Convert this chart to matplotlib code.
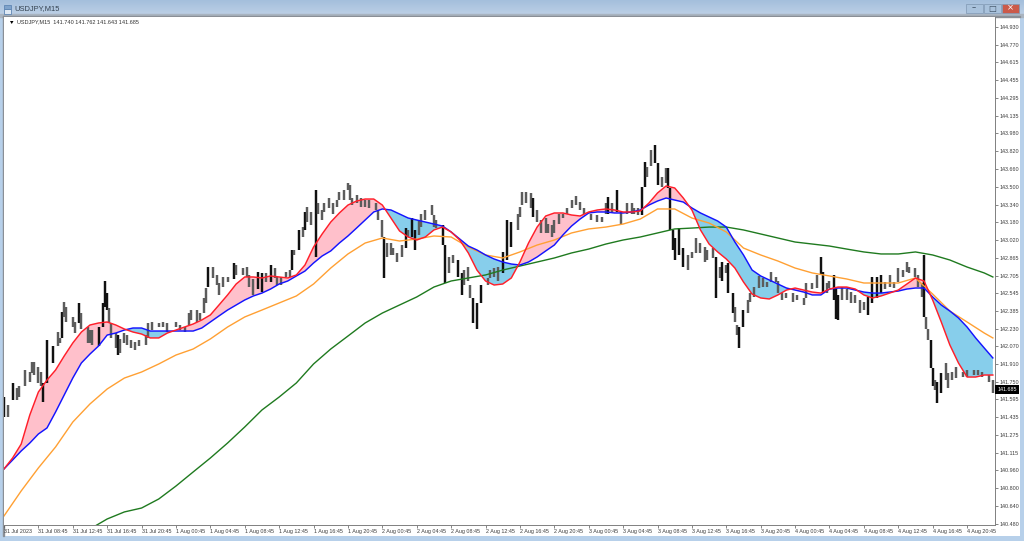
"""USDJPY M15 terminal chart with moving average ribbons."""

import matplotlib

matplotlib.use("Agg")
import matplotlib.pyplot as plt
import numpy as np
from matplotlib.patches import Polygon, Rectangle

# candle ranges, bar number / high / low
candle_bars = [
    0, 2, 4, 6, 7, 10, 12, 13, 14, 16, 17, 18, 20, 23, 25, 26, 27, 28, 29, 32, 33, 35, 36, 39, 40, 41, 44, 46, 47, 48,
    49, 50, 52, 53, 54, 56, 57, 59, 61, 63, 66, 67, 69, 72, 74, 76, 80, 82, 84, 86, 87, 90, 91, 93, 94, 95, 97, 99, 100,
    102, 104, 107, 108, 111, 113, 114, 116, 118, 120, 122, 124, 126, 127, 129, 131, 133, 134, 135, 137, 139, 140, 141,
    143, 145, 146, 148, 149, 151, 153, 155, 156, 158, 160, 161, 162, 164, 166, 168, 170, 173, 174, 176, 177, 178, 180,
    181, 183, 185, 187, 188, 190, 191, 193, 194, 196, 199, 200, 201, 204, 205, 207, 209, 211, 213, 214, 216, 217, 218,
    220, 222, 225, 226, 228, 230, 232, 234, 236, 239, 240, 241, 243, 245, 246, 248, 250, 252, 253, 255, 256, 258, 260,
    262, 264, 266, 268, 270, 273, 276, 278, 280, 281, 283, 285, 287, 290, 292, 293, 295, 297, 298, 299, 301, 303, 304,
    306, 308, 309, 310, 311, 312, 314, 316, 318, 320, 322, 324, 326, 327, 330, 331, 333, 334, 336, 337, 339, 340, 341,
    342, 344, 346, 347, 349, 351, 353, 355, 357, 359, 360, 362, 364, 367, 369, 372, 373, 376, 378, 380, 381, 383, 384,
    386, 387, 388, 390, 392, 394, 396, 398, 400, 402, 404, 406, 408, 410, 412, 414, 416, 418, 420, 421, 424, 425, 427,
    428, 429, 430, 431, 432, 433, 434, 436, 438, 439, 441, 443, 446, 448, 451, 453, 455, 458, 460,
]
candle_high = [
    141.62, 141.55, 141.74, 141.70, 141.72, 141.86, 141.84, 141.93, 141.93, 141.89, 141.84, 141.74, 142.13, 142.07,
    142.20, 142.15, 142.38, 142.47, 142.42, 142.33, 142.29, 142.46, 142.37, 142.24, 142.22, 142.22, 142.24, 142.46,
    142.66, 142.55, 142.41, 142.28, 142.19, 142.17, 142.14, 142.19, 142.17, 142.13, 142.11, 142.13, 142.17, 142.28,
    142.29, 142.28, 142.29, 142.28, 142.29, 142.26, 142.24, 142.37, 142.40, 142.40, 142.37, 142.50, 142.59, 142.78,
    142.78, 142.71, 142.64, 142.69, 142.69, 142.82, 142.80, 142.77, 142.78, 142.71, 142.67, 142.74, 142.73, 142.73,
    142.80, 142.77, 142.69, 142.69, 142.74, 142.75, 142.93, 142.93, 143.11, 143.14, 143.27, 143.32, 143.27, 143.47,
    143.35, 143.29, 143.35, 143.40, 143.35, 143.38, 143.45, 143.47, 143.53, 143.52, 143.40, 143.43, 143.40, 143.38,
    143.38, 143.35, 143.29, 143.20, 143.05, 143.00, 143.00, 142.95, 142.91, 142.98, 143.13, 143.11, 143.22, 143.11,
    143.20, 143.26, 143.29, 143.34, 143.25, 143.20, 143.16, 142.98, 142.87, 142.89, 142.84, 142.73, 142.75, 142.78,
    142.62, 142.50, 142.46, 142.62, 142.68, 142.75, 142.77, 142.78, 142.92, 143.20, 143.18, 143.26, 143.32, 143.45,
    143.45, 143.44, 143.40, 143.29, 143.20, 143.22, 143.17, 143.16, 143.20, 143.26, 143.26, 143.31, 143.38, 143.42,
    143.36, 143.31, 143.26, 143.25, 143.23, 143.35, 143.41, 143.35, 143.47, 143.27, 143.35, 143.35, 143.31, 143.31,
    143.50, 143.72, 143.68, 143.83, 143.87, 143.71, 143.59, 143.67, 143.67, 143.49, 143.11, 143.04, 143.13, 142.95,
    142.89, 142.92, 143.04, 143.00, 142.96, 142.93, 142.95, 142.87, 142.78, 142.83, 142.80, 142.82, 142.55, 142.42,
    142.26, 142.24, 142.40, 142.49, 142.55, 142.60, 142.70, 142.68, 142.65, 142.74, 142.69, 142.66, 142.55, 142.55,
    142.55, 142.53, 142.50, 142.64, 142.64, 142.71, 142.87, 142.74, 142.64, 142.66, 142.71, 142.58, 142.53, 142.60,
    142.58, 142.56, 142.53, 142.49, 142.47, 142.51, 142.69, 142.69, 142.71, 142.65, 142.71, 142.65, 142.77, 142.75,
    142.83, 142.78, 142.77, 142.71, 142.64, 142.89, 142.33, 142.23, 142.13, 141.88, 141.77, 141.75, 141.83, 141.92,
    141.83, 141.84, 141.89, 141.84, 141.86, 141.86, 141.86, 141.84, 141.81, 141.77,
]
candle_low = [
    141.44, 141.44, 141.59, 141.59, 141.62, 141.72, 141.75, 141.83, 141.81, 141.74, 141.72, 141.57, 141.74, 141.92,
    142.07, 142.10, 142.15, 142.33, 142.29, 142.24, 142.19, 142.28, 142.23, 142.10, 142.10, 142.08, 142.07, 142.24,
    142.42, 142.40, 142.28, 142.15, 142.06, 141.99, 142.01, 142.10, 142.08, 142.06, 142.04, 142.07, 142.08, 142.15,
    142.22, 142.24, 142.24, 142.20, 142.24, 142.22, 142.20, 142.26, 142.31, 142.29, 142.31, 142.37, 142.46, 142.60,
    142.68, 142.62, 142.53, 142.60, 142.65, 142.67, 142.71, 142.71, 142.69, 142.60, 142.53, 142.58, 142.56, 142.65,
    142.65, 142.68, 142.62, 142.62, 142.69, 142.69, 142.75, 142.89, 142.93, 143.05, 143.11, 143.18, 143.16, 142.87,
    143.26, 143.20, 143.27, 143.31, 143.26, 143.32, 143.38, 143.38, 143.47, 143.38, 143.34, 143.35, 143.32, 143.32,
    143.31, 143.29, 143.20, 143.05, 142.68, 142.87, 142.89, 142.89, 142.83, 142.87, 142.95, 143.05, 143.05, 142.93,
    143.07, 143.14, 143.20, 143.25, 143.14, 143.13, 142.98, 142.64, 142.73, 142.82, 142.69, 142.53, 142.62, 142.66,
    142.50, 142.28, 142.23, 142.46, 142.62, 142.68, 142.69, 142.66, 142.73, 142.84, 142.96, 143.11, 143.23, 143.34,
    143.35, 143.31, 143.23, 143.18, 143.09, 143.09, 143.09, 143.05, 143.09, 143.17, 143.22, 143.26, 143.31, 143.34,
    143.29, 143.26, 143.20, 143.18, 143.18, 143.26, 143.26, 143.27, 143.27, 143.17, 143.26, 143.26, 143.26, 143.25,
    143.25, 143.50, 143.59, 143.69, 143.71, 143.52, 143.50, 143.53, 143.49, 143.11, 142.93, 142.84, 142.89, 142.78,
    142.75, 142.86, 142.91, 142.91, 142.83, 142.84, 142.86, 142.50, 142.68, 142.66, 142.73, 142.55, 142.37, 142.29,
    142.17, 142.06, 142.24, 142.37, 142.47, 142.51, 142.59, 142.60, 142.60, 142.65, 142.65, 142.55, 142.49, 142.50,
    142.47, 142.49, 142.44, 142.50, 142.58, 142.59, 142.71, 142.55, 142.55, 142.59, 142.49, 142.32, 142.31, 142.49,
    142.49, 142.46, 142.46, 142.37, 142.40, 142.35, 142.46, 142.50, 142.55, 142.58, 142.60, 142.59, 142.65, 142.69,
    142.74, 142.73, 142.69, 142.60, 142.51, 142.33, 142.23, 142.13, 141.88, 141.72, 141.68, 141.56, 141.65, 141.77,
    141.70, 141.77, 141.79, 141.80, 141.80, 141.81, 141.81, 141.80, 141.75, 141.65,
]

# fast pair, one reading every 4 bars
red_line = [
    140.973, 141.071, 141.196, 141.456, 141.662, 141.769, 141.859, 141.984, 142.101, 142.199, 142.262, 142.280, 142.289,
    142.262, 142.226, 142.199, 142.181, 142.146, 142.146, 142.190, 142.217, 142.244, 142.271, 142.307, 142.352, 142.441,
    142.531, 142.629, 142.692, 142.692, 142.683, 142.701, 142.692, 142.683, 142.710, 142.799, 142.960, 143.077, 143.184,
    143.265, 143.336, 143.372, 143.390, 143.390, 143.336, 143.220, 143.104, 143.050, 143.023, 143.050, 143.113, 143.139,
    143.095, 143.023, 142.907, 142.754, 142.656, 142.620, 142.629, 142.683, 142.826, 142.996, 143.139, 143.238, 143.265,
    143.265, 143.247, 143.238, 143.274, 143.292, 143.301, 143.292, 143.274, 143.274, 143.283, 143.354, 143.444, 143.507,
    143.489, 143.399, 143.292, 143.113, 142.987, 142.916, 142.853, 142.772, 142.647, 142.539, 142.504, 142.495, 142.531,
    142.575, 142.593, 142.575, 142.557, 142.548, 142.584, 142.602, 142.602, 142.584, 142.531, 142.504, 142.522, 142.548,
    142.575, 142.629, 142.683, 142.656, 142.486, 142.289, 142.083, 141.922, 141.796, 141.796, 141.814, 141.814,
]
blue_line = [
    140.973, 141.053, 141.134, 141.205, 141.286, 141.340, 141.483, 141.635, 141.787, 141.922, 142.002, 142.074, 142.172,
    142.190, 142.217, 142.235, 142.235, 142.208, 142.208, 142.208, 142.208, 142.208, 142.208, 142.235, 142.289, 142.343,
    142.396, 142.441, 142.486, 142.522, 142.548, 142.584, 142.629, 142.656, 142.701, 142.745, 142.817, 142.880, 142.925,
    142.996, 143.059, 143.130, 143.202, 143.274, 143.301, 143.292, 143.256, 143.220, 143.202, 143.184, 143.166, 143.148,
    143.095, 143.032, 142.969, 142.934, 142.889, 142.853, 142.826, 142.808, 142.799, 142.826, 142.871, 142.925, 142.978,
    143.068, 143.148, 143.211, 143.265, 143.274, 143.274, 143.265, 143.265, 143.274, 143.292, 143.336, 143.372, 143.399,
    143.381, 143.363, 143.310, 143.265, 143.229, 143.193, 143.139, 143.005, 142.889, 142.754, 142.701, 142.665, 142.629,
    142.593, 142.575, 142.557, 142.531, 142.531, 142.584, 142.593, 142.593, 142.575, 142.557, 142.548, 142.548, 142.557,
    142.566, 142.584, 142.593, 142.593, 142.513, 142.441, 142.387, 142.325, 142.244, 142.146, 142.056, 141.967,
]

# slow pair, one reading every 8 bars and the last bar
orange_line = [
    140.552, 140.776, 140.982, 141.170, 141.393, 141.555, 141.689, 141.787, 141.841, 141.913, 141.993, 142.047, 142.137,
    142.244, 142.334, 142.396, 142.459, 142.522, 142.629, 142.772, 142.898, 142.996, 143.041, 143.014, 143.032, 143.059,
    143.050, 142.960, 142.889, 142.862, 142.916, 142.978, 143.023, 143.086, 143.122, 143.139, 143.166, 143.211, 143.301,
    143.301, 143.220, 143.175, 143.095, 142.951, 142.889, 142.835, 142.772, 142.728, 142.701, 142.674, 142.638, 142.638,
    142.638, 142.683, 142.539, 142.387, 142.289, 142.190, 142.146,
]
green_line = [
    140.435, 140.525, 140.588, 140.623, 140.704, 140.820, 140.946, 141.071, 141.205, 141.349, 141.501, 141.617, 141.743,
    141.913, 142.047, 142.163, 142.280, 142.369, 142.441, 142.513, 142.602, 142.656, 142.683, 142.710, 142.754, 142.790,
    142.826, 142.862, 142.907, 142.942, 142.987, 143.023, 143.050, 143.086, 143.122, 143.130, 143.139, 143.139, 143.113,
    143.077, 143.041, 143.005, 142.987, 142.969, 142.942, 142.916, 142.898, 142.898, 142.916, 142.889, 142.844, 142.781,
    142.728, 142.692,
]

price_ticks = [
    144.930, 144.770, 144.615, 144.455, 144.295, 144.135, 143.980, 143.820, 143.660, 143.500, 143.340, 143.180, 143.020,
    142.865, 142.705, 142.545, 142.385, 142.230, 142.070, 141.910, 141.750, 141.595, 141.435, 141.275, 141.115, 140.960,
    140.800, 140.640, 140.480,
]
time_labels = [
    "31 Jul 2023", "31 Jul 08:45", "31 Jul 12:45", "31 Jul 16:45", "31 Jul 20:45",
    "1 Aug 00:45", "1 Aug 04:45", "1 Aug 08:45", "1 Aug 12:45", "1 Aug 16:45", "1 Aug 20:45",
    "2 Aug 00:45", "2 Aug 04:45", "2 Aug 08:45", "2 Aug 12:45", "2 Aug 16:45", "2 Aug 20:45",
    "3 Aug 00:45", "3 Aug 04:45", "3 Aug 08:45", "3 Aug 12:45", "3 Aug 16:45", "3 Aug 20:45",
    "4 Aug 00:45", "4 Aug 04:45", "4 Aug 08:45", "4 Aug 12:45", "4 Aug 16:45", "4 Aug 20:45",
]
last_price = 141.685

plt.rcParams["font.family"] = ["Liberation Sans", "DejaVu Sans"]

fast_bars = np.arange(len(red_line)) * 4
orange_bars = list(range(0, 457, 8)) + [460]
green_bars = list(range(40, 457, 8)) + [460]
candle_bars = np.array(candle_bars)
candle_high = np.array(candle_high)
candle_low = np.array(candle_low)
red_line = np.array(red_line)
blue_line = np.array(blue_line)

figure = plt.figure(figsize=(10.24, 5.41), dpi=100, facecolor="#b7d0ea")

# window chrome, drawn in pixel coordinates
chrome = figure.add_axes([0, 0, 1, 1], zorder=0)
chrome.imshow(
    np.linspace(0, 1, 32).reshape(-1, 1),
    extent=(0, 1024, 15, 0),
    aspect="auto",
    cmap=matplotlib.colors.LinearSegmentedColormap.from_list("bar", ["#a4bfdc", "#bdd0e6"]),
)
chrome.add_patch(Rectangle((0, 14), 1024, 3, color="#a9b4c0"))
chrome.add_patch(Rectangle((3, 16), 1017, 520, facecolor="white", edgecolor="none"))
chrome.add_patch(Rectangle((3, 16), 1, 520, color="#8a8f96"))
chrome.add_patch(Rectangle((3, 16), 1017, 1, color="#8a8f96"))
chrome.add_patch(Rectangle((4, 9), 7, 5, facecolor="#dfe9f4", edgecolor="#5f86b3", linewidth=0.6))
chrome.add_patch(Rectangle((4, 5), 7, 4, facecolor="#7fa3cb", edgecolor="#5f86b3", linewidth=0.6))
chrome.text(14, 8.5, "USDJPY,M15", fontsize=5.4, color="#33414f", va="center")
for left, tone, glyph in [(966, "#a9c2dc", "–"), (984, "#a9c2dc", "□"), (1002, "#cb5a4a", "×")]:
    chrome.add_patch(Rectangle((left, 4), 16.5, 8.5, facecolor=tone, edgecolor="#7f97b2", linewidth=0.5))
    chrome.text(left + 8.2, 8, glyph, fontsize=6, color="#3d4f63" if left < 1000 else "white",
                ha="center", va="center", family="DejaVu Sans")
chrome.set_xlim(0, 1024)
chrome.set_ylim(541, 0)
chrome.axis("off")

# price pane
axis = figure.add_axes([4 / 1024, 16 / 541, 991 / 1024, 508 / 541], zorder=1)
axis.set_facecolor("white")
axis.fill_between(fast_bars, red_line, blue_line, where=red_line >= blue_line, interpolate=True,
                  color="#ffc0cb", linewidth=0, zorder=1)
axis.fill_between(fast_bars, red_line, blue_line, where=red_line <= blue_line, interpolate=True,
                  color="#87ceeb", linewidth=0, zorder=1)

# long ranges print as solid black, short ones blur to grey at this size
tones = ["#111111" if high - low > 0.15 else "#5c5c5c" for high, low in zip(candle_high, candle_low)]
axis.vlines(candle_bars, candle_low, candle_high, colors=tones, linewidth=1.75, zorder=2)

axis.plot(green_bars, green_line, color="#1f7a1f", linewidth=1.0, zorder=3)
axis.plot(orange_bars, orange_line, color="#ffa033", linewidth=1.0, zorder=3)
axis.plot(fast_bars, blue_line, color="#1414ff", linewidth=1.05, zorder=4)
axis.plot(fast_bars, red_line, color="#ff1f2a", linewidth=1.05, zorder=4)

axis.set_xlim(0, 461)
axis.set_ylim(140.471, 145.020)
axis.set_xticks(np.arange(len(time_labels)) * 16)
axis.set_xticklabels(time_labels, ha="left")
axis.yaxis.tick_right()
axis.set_yticks(price_ticks)
axis.set_yticklabels([f"{tick:.3f}" for tick in price_ticks])
axis.tick_params(axis="x", length=2.2, width=0.5, pad=1.0, labelsize=3.9, color="#555555", labelcolor="#3c3c3c")
axis.tick_params(axis="y", length=1.8, width=0.5, pad=1.6, labelsize=3.9, color="#555555", labelcolor="#3c3c3c")
for side in ["left", "top"]:
    axis.spines[side].set_visible(False)
for side in ["right", "bottom"]:
    axis.spines[side].set_color("#808080")
    axis.spines[side].set_linewidth(0.7)

# last price flag
axis.annotate(f"{last_price:.3f}", xy=(1.0, last_price), xycoords=("axes fraction", "data"),
              xytext=(1.6, 0), textcoords="offset points", fontsize=3.9, color="white", va="center",
              annotation_clip=False, bbox=dict(boxstyle="square,pad=0.35", facecolor="black", edgecolor="none"))

# header line inside the pane
axis.add_patch(Polygon([(6 / 991, 1 - 4 / 508), (9.5 / 991, 1 - 4 / 508), (7.75 / 991, 1 - 7 / 508)],
                       transform=axis.transAxes, color="black", linewidth=0))
axis.text(13 / 991, 1 - 5 / 508, "USDJPY,M15  141.740 141.762 141.643 141.685", transform=axis.transAxes,
          fontsize=3.95, color="#333333", va="center")

figure.savefig("out.png", dpi=100, facecolor=figure.get_facecolor())
plt.close(figure)
